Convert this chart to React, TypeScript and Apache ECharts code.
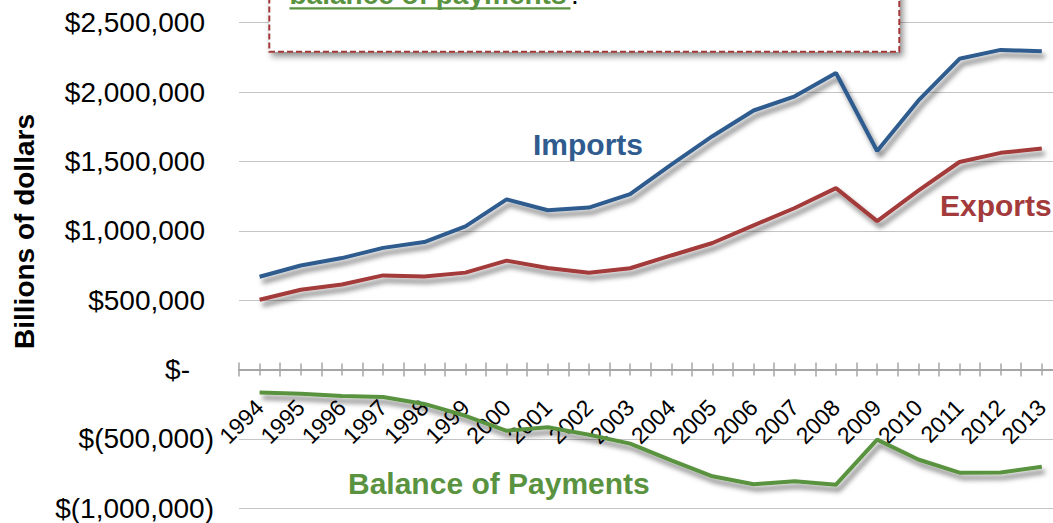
import React, { useEffect, useRef } from "react";
import * as echarts from "echarts";

const years = ["1994", "1995", "1996", "1997", "1998", "1999", "2000", "2001", "2002", "2003", "2004", "2005", "2006", "2007", "2008", "2009", "2010", "2011", "2012", "2013"];
const importsData = [668690, 749374, 803113, 876794, 918637, 1031784, 1226684, 1148231, 1167377, 1264307, 1477094, 1681780, 1866967, 1969375, 2137608, 1575443, 1937664, 2239886, 2303785, 2294453];
const exportsData = [502859, 575204, 612113, 678366, 670416, 698218, 784781, 731189, 697439, 729816, 821986, 911686, 1039406, 1163957, 1307499, 1069733, 1288795, 1495853, 1561689, 1592784];
const balanceData = [-165831, -174170, -191000, -198428, -248221, -333566, -441903, -417042, -469938, -534491, -655108, -770094, -827561, -805418, -830109, -505710, -648869, -744033, -742096, -701669];

const yMin = -1000000;
const yMax = 2500000;
const yStep = 500000;

const BLUE = "#2f5b8e";
const RED = "#a33a3b";
const GREEN = "#5a9340";
const FONT = "'Liberation Sans', Arial, Helvetica, sans-serif";
const AXIS_GREY = "#a6a6a6";

const GRID_TOP = 22.7;
const GRID_HEIGHT = 485.5;
// distance from grid bottom (yMin) up to the zero line
const ZERO_OFFSET = (GRID_HEIGHT * (0 - yMin)) / (yMax - yMin);

function fmtNum(v: number): string {
  return Math.abs(v).toString().replace(/\B(?=(\d{3})+(?!\d))/g, ",");
}

export default function App() {
  const ref = useRef<HTMLDivElement | null>(null);
  useEffect(() => {
    document.body.style.margin = "0";
    if (!ref.current) return;
    const chart = echarts.init(ref.current, undefined, { renderer: "svg" });
    const tickStyle = { color: AXIS_GREY, width: 1.5 };
    const baseX = {
      type: "category" as const,
      data: years,
      boundaryGap: true,
      position: "bottom" as const,
      offset: -ZERO_OFFSET,
      axisLine: { show: true, onZero: false, lineStyle: { color: AXIS_GREY, width: 1.5 } },
      splitLine: { show: false },
    };
    const lineSeries = (name: string, data: number[], color: string) => ({
      name,
      type: "line",
      data,
      symbol: "none",
      xAxisIndex: 0,
      yAxisIndex: 0,
      lineStyle: {
        width: 4,
        color,
        shadowColor: "rgba(0,0,0,0.5)",
        shadowBlur: 5,
        shadowOffsetX: 3,
        shadowOffsetY: 5,
      },
      itemStyle: { color },
      z: 3,
    });
    chart.setOption({
      animation: false,
      backgroundColor: "#ffffff",
      grid: { left: 239, top: GRID_TOP, width: 823.4, height: GRID_HEIGHT, containLabel: false, outerBoundsMode: "none" },
      xAxis: [
        {
          ...baseX,
          axisTick: { show: true, length: 7, interval: 0, alignWithLabel: false, lineStyle: tickStyle },
          axisLabel: {
            show: true,
            interval: 0,
            rotate: 45,
            align: "right",
            verticalAlign: "middle",
            padding: [10, 0, 0, 0],
            margin: 34,
            fontSize: 23,
            fontFamily: FONT,
            color: "#000",
          },
        },
        {
          ...baseX,
          axisTick: { show: true, inside: true, length: 7, interval: 0, alignWithLabel: false, lineStyle: tickStyle },
          axisLabel: { show: false },
        },
        {
          ...baseX,
          axisTick: { show: true, length: 6, interval: 0, alignWithLabel: true, lineStyle: tickStyle },
          axisLabel: { show: false },
        },
        {
          ...baseX,
          axisTick: { show: true, inside: true, length: 6, interval: 0, alignWithLabel: true, lineStyle: tickStyle },
          axisLabel: { show: false },
        },
      ],
      yAxis: {
        type: "value",
        min: yMin,
        max: yMax,
        interval: yStep,
        axisLine: { show: false },
        axisTick: { show: false },
        splitLine: { show: true, lineStyle: { color: "#c4c4c4", width: 1.2 } },
        axisLabel: {
          margin: 25,
          fontSize: 28,
          fontFamily: FONT,
          color: "#000",
          align: "right",
          formatter: (v: number) => {
            if (v === 0) return "{z|$-}";
            if (v < 0) return "{n|$(" + fmtNum(v) + ")}";
            return "{p|$" + fmtNum(v) + "}";
          },
          rich: {
            z: { fontSize: 28, fontFamily: FONT, color: "#000", padding: [0, 24, 0, 0] },
            n: { fontSize: 28, fontFamily: FONT, color: "#000" },
            p: { fontSize: 28, fontFamily: FONT, color: "#000", padding: [0, 9, 0, 0] },
          },
        },
      },
      series: [
        lineSeries("Imports", importsData, BLUE),
        lineSeries("Exports", exportsData, RED),
        lineSeries("Balance of Payments", balanceData, GREEN),
      ],
      graphic: [
        {
          type: "text",
          x: 24,
          y: 231.5,
          rotation: Math.PI / 2,
          style: {
            text: "Billions of dollars",
            fontSize: 28,
            fontWeight: "bold",
            fontFamily: FONT,
            fill: "#000",
            align: "center",
            verticalAlign: "middle",
          },
          z: 10,
        },
        {
          type: "text",
          x: 533,
          y: 144,
          style: { text: "Imports", fontSize: 30, fontWeight: "bold", fontFamily: FONT, fill: BLUE, align: "left", verticalAlign: "middle" },
          z: 10,
        },
        {
          type: "text",
          x: 940,
          y: 205,
          style: { text: "Exports", fontSize: 30, fontWeight: "bold", fontFamily: FONT, fill: RED, align: "left", verticalAlign: "middle" },
          z: 10,
        },
        {
          type: "text",
          x: 348,
          y: 483,
          style: { text: "Balance of Payments", fontSize: 30, fontWeight: "bold", fontFamily: FONT, fill: GREEN, align: "left", verticalAlign: "middle" },
          z: 10,
        },
        {
          type: "rect",
          shape: { x: 269.3, y: -80, width: 630, height: 131.7 },
          style: {
            fill: "#ffffff",
            stroke: "#a3383a",
            lineWidth: 2,
            lineDash: [6, 3],
            shadowColor: "rgba(0,0,0,0.45)",
            shadowBlur: 6,
            shadowOffsetX: 3,
            shadowOffsetY: 4,
          },
          z: 20,
        },
        {
          type: "text",
          x: 289.5,
          y: -5.3,
          style: { text: "balance of payments", fontSize: 28, fontWeight: "bold", fontFamily: FONT, fill: GREEN, align: "left", verticalAlign: "middle" },
          z: 21,
        },
        {
          type: "text",
          x: 571,
          y: -5.3,
          style: { text: ".", fontSize: 28, fontFamily: FONT, fill: "#000", align: "left", verticalAlign: "middle" },
          z: 21,
        },
        {
          type: "line",
          shape: { x1: 289.5, y1: 8.3, x2: 570.5, y2: 8.3 },
          style: { stroke: GREEN, lineWidth: 2.2 },
          z: 21,
        },
      ],
    });
    return () => chart.dispose();
  }, []);
  return <div ref={ref} style={{ position: "fixed", left: 0, top: 0, width: 1053, height: 523 }} />;
}
